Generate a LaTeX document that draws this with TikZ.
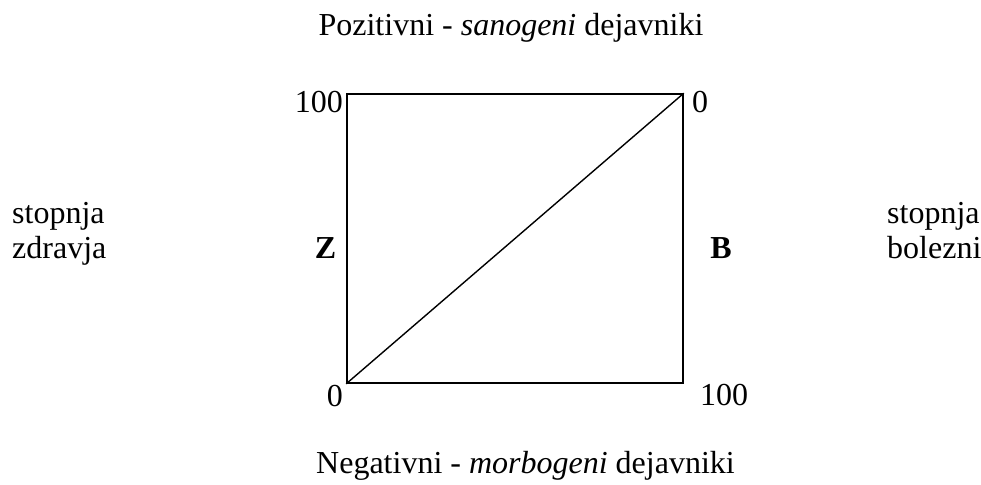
\documentclass[tikz,border=0pt]{standalone}
\usepackage{fontspec}
\setmainfont{Liberation Serif}
\usetikzlibrary{positioning}

\begin{document}
\begin{tikzpicture}[
    x=1pt, y=-1pt,
    every node/.style={inner sep=0pt, font=\fontsize{32}{35}\selectfont},
    frame/.style={rectangle, draw, line width=1.6pt, minimum width=336pt, minimum height=289pt},
    diag/.style={line width=1.4pt},
    num/.style={anchor=base},
    side/.style={align=left, anchor=base west}
]
\useasboundingbox (0,0) rectangle (981,484);

\node[frame] (sq) at (515,238.5) {};
\draw[diag] (sq.south west) -- (sq.north east);

\node[num, anchor=base] (pos) at (511,36) {Pozitivni - \textit{sanogeni} dejavniki};
\node[num, anchor=base] (neg) at (525.5,473) {Negativni - \textit{morbogeni} dejavniki};

\node[num, anchor=base east] (tl) at (343,112) {100};
\node[num, anchor=base west] (tr) at (692,112) {0};
\node[num, anchor=base east] (bl) at (343,406) {0};
\node[num, anchor=base west] (br) at (700,405) {100};

\node[num, font=\fontsize{32}{35}\selectfont\bfseries] (Z) at (325.5,258) {Z};
\node[num, font=\fontsize{32}{35}\selectfont\bfseries] (B) at (721,258) {B};

% two-line labels: base anchor sits on the last line
\node[side] (zdr) at (12,258) {stopnja\\zdravja};
\node[side] (bol) at (887,258) {stopnja\\bolezni};

\end{tikzpicture}
\end{document}
